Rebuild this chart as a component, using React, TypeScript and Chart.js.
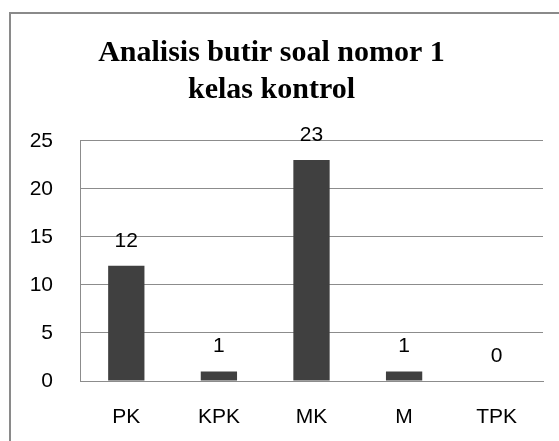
import React, { useEffect, useRef } from "react";
import { Chart, registerables } from "chart.js";

Chart.register(...registerables);

const categories = ["PK", "KPK", "MK", "M", "TPK"];
const values = [12, 1, 23, 1, 0];
const yTicks = [0, 5, 10, 15, 20, 25];
const titleLines = ["Analisis butir soal nomor 1", "kelas kontrol"];

const dataLabels = {
  id: "dataLabels",
  afterDatasetsDraw(chart: any) {
    const ctx = chart.ctx;
    const meta = chart.getDatasetMeta(0);
    ctx.save();
    ctx.font = "21px 'Liberation Sans'";
    ctx.fillStyle = "#000";
    ctx.textAlign = "center";
    ctx.textBaseline = "alphabetic";
    meta.data.forEach((bar: any, i: number) => {
      ctx.fillText(String(values[i]), bar.x, bar.y - 19);
    });
    ctx.restore();
  },
};

export default function App() {
  const ref = useRef<HTMLCanvasElement | null>(null);
  useEffect(() => {
    if (!ref.current) return;
    const chart = new Chart(ref.current, {
      type: "bar",
      data: {
        labels: categories,
        datasets: [
          {
            data: values,
            backgroundColor: "#404040",
            borderWidth: 0,
            barPercentage: 0.49,
            categoryPercentage: 0.8,
          },
        ],
      },
      options: {
        animation: false,
        responsive: false,
        layout: { padding: { left: 0, right: 16, top: 0, bottom: 0 } },
        plugins: {
          legend: { display: false },
          tooltip: { enabled: false },
          title: {
            display: true,
            text: titleLines,
            color: "#000",
            font: { family: "'Liberation Serif'", size: 30, weight: "bold", lineHeight: 1.23 },
            padding: { top: 35, bottom: 32 },
          },
        },
        scales: {
          x: {
            grid: { display: false, drawTicks: false },
            border: { display: true, color: "#8c8c8c", width: 1 },
            ticks: { color: "#000", font: { family: "'Liberation Sans'", size: 21 }, padding: 24 },
            afterFit: (s: any) => { s.height = 60; },
          },
          y: {
            min: 0,
            max: 25,
            afterBuildTicks: (s: any) => { s.ticks = yTicks.map((v) => ({ value: v })); },
            grid: { color: "#8c8c8c", drawTicks: false },
            border: { display: true, color: "#8c8c8c", width: 1 },
            ticks: { color: "#000", font: { family: "'Liberation Sans'", size: 21 }, padding: 27 },
            afterFit: (s: any) => { s.width = 80; },
          },
        },
      },
      plugins: [dataLabels],
    });
    return () => chart.destroy();
  }, []);
  return (
    <div style={{ position: "fixed", left: 0, top: 0, width: 559, height: 441, overflow: "hidden", background: "#fff" }}>
      <div style={{ position: "absolute", left: 9, top: 12, width: 600, height: 500, borderTop: "2px solid #8a8a8a", borderLeft: "2px solid #8a8a8a" }} />
      <canvas ref={ref} width={559} height={441} style={{ position: "absolute", left: 0, top: 0 }} />
    </div>
  );
}
